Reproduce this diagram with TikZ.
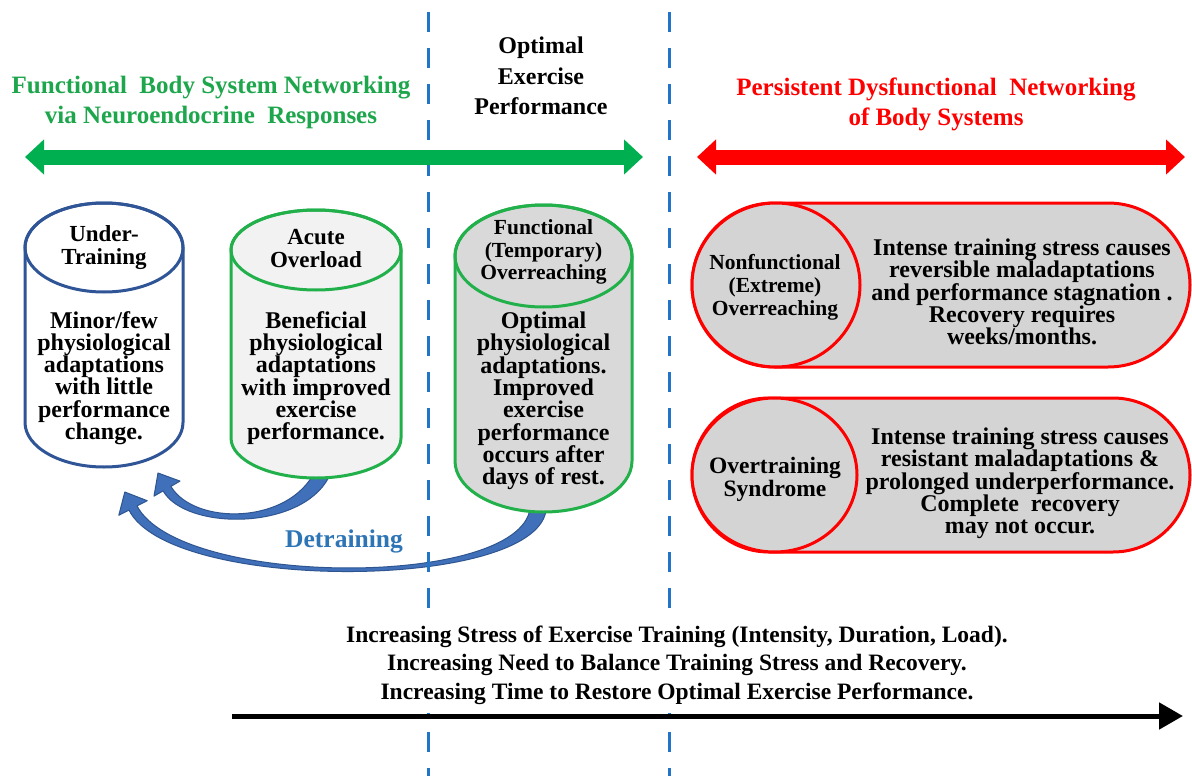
\documentclass[tikz,border=0pt]{standalone}
\usepackage{fontspec}
\setmainfont{Liberation Serif}
\usetikzlibrary{arrows.meta,shapes.geometric,shapes.misc}

\definecolor{okgreen}{HTML}{00B050}
\definecolor{txtgreen}{HTML}{1DA64B}
\definecolor{rimgreen}{HTML}{22B04B}
\definecolor{drumblue}{HTML}{2F5597}
\definecolor{guideblue}{HTML}{2075C8}
\definecolor{detrain}{HTML}{4070BA}
\definecolor{detrainedge}{HTML}{2F5590}
\definecolor{detraintext}{HTML}{2E75B6}
\definecolor{palegray}{HTML}{F2F2F2}
\definecolor{midgray}{HTML}{D9D9D9}
\definecolor{capsgray}{HTML}{D4D4D4}
\definecolor{alarmred}{HTML}{FF0000}

% drum: centre x, top-ellipse y, bottom-ellipse y, x radius, y radius, rim colour, fill colour
\newcommand\drum[7]{%
  \filldraw[line width=3pt, draw=#6, fill=#7]
    (#1-#4,#2) -- (#1-#4,#3)
    arc[start angle=180, end angle=0, x radius=#4, y radius=#5]
    -- (#1+#4,#2)
    arc[start angle=0, end angle=-180, x radius=#4, y radius=#5] -- cycle;
  \draw[line width=3pt, draw=#6] (#1,#2) ellipse[x radius=#4, y radius=#5];
}

\begin{document}
\begin{tikzpicture}[x=1pt, y=-1pt,
  every node/.style={inner sep=0pt, outer sep=0pt},
  banner/.style={align=center, font=\bfseries\fontsize{25}{30}\selectfont},
  optfont/.style={align=center, font=\bfseries\fontsize{24}{30.5}\selectfont},
  drumhead/.style={align=center, font=\bfseries\fontsize{23}{23}\selectfont},
  drumheadsmall/.style={align=center, font=\bfseries\fontsize{21.5}{22.5}\selectfont},
  drumbody/.style={align=center, font=\bfseries\fontsize{24}{22.3}\selectfont},
  capsbody/.style={align=center, font=\bfseries\fontsize{24}{22}\selectfont},
  capslabel/.style={align=center, font=\bfseries\fontsize{#1}{23}\selectfont},
  capsule/.style={rounded rectangle, draw=alarmred, line width=3pt, fill=capsgray},
  disc/.style={ellipse, draw=alarmred, line width=3pt, fill=capsgray},
  rangebar/.style={line width=15pt, {Triangle[width=34pt,length=19pt]}-{Triangle[width=34pt,length=19pt]}},
  detrainarrow/.style={fill=detrain, draw=detrainedge, line width=1pt, line join=round},
  guide/.style={draw=guideblue, line width=3pt, dash pattern=on 20pt off 16pt},
  stressaxis/.style={line width=5pt, -{Triangle[width=26pt,length=24pt]}}
]
\useasboundingbox (0,0) rectangle (1192,776);
\fill[white] (0,0) rectangle (1192,776);

% ---------- detraining arrows: tapered curved shafts, drawn under the drums ----------
\coordinate (ao-foot) at (322,474);
\coordinate (ut-near) at (158,473);
\coordinate (fo-foot) at (538,510);
\coordinate (ut-far)  at (124.8,492);
\filldraw[detrainarrow]
  (328.7,477.4) .. controls (300.8,530.9) and (185.7,530.5) .. (163.1,490.9)
  -- (154,496.1) -- (ut-near) -- (180,481.1) -- (170.9,486.4)
  .. controls (194.3,525.5) and (289.2,525.1) .. (315.3,470.6) -- cycle;
\filldraw[detrainarrow]
  (545.9,511.3) .. controls (531.9,591.1) and (170.1,592.5) .. (129,510.1)
  -- (118.8,515.3) -- (ut-far) -- (147.2,500.7) -- (137,505.9)
  .. controls (179.9,587.5) and (518.1,588.9) .. (530.1,508.7) -- cycle;

% ---------- zone dividers ----------
\coordinate (d1-top) at (428,12);  \coordinate (d1-bot) at (428,776);
\coordinate (d2-top) at (669,12);  \coordinate (d2-bot) at (669,776);
\draw[guide] (d1-top) -- (d1-bot);
\draw[guide] (d2-top) -- (d2-bot);

\node[font=\bfseries\fontsize{25.5}{28}\selectfont, text=detraintext] (detr) at (344,541) {Detraining};

% ---------- headings ----------
\node[banner, text=txtgreen] (fbsn) at (211,102)
  {Functional\ \ Body System Networking\\via Neuroendocrine\ \ Responses};
\node[banner, text=alarmred] (pdnb) at (936,104)
  {Persistent Dysfunctional\ \ Networking\\of Body Systems};
\node[optfont] (oep) at (541,76) {Optimal\\Exercise\\Performance};

% ---------- range arrows ----------
\coordinate (gl) at (25,157);  \coordinate (gr) at (643,157);
\coordinate (rl) at (697,157); \coordinate (rr) at (1185,157);
\draw[rangebar, draw=okgreen] (gl) -- (gr);
\draw[rangebar, draw=alarmred] (rl) -- (rr);

% ---------- drums ----------
\drum{104}{247.5}{422.5}{79}{44.5}{drumblue}{white}
\drum{316}{250}{438}{85}{40}{rimgreen}{palegray}
\drum{543.5}{256}{461}{88.5}{51}{rimgreen}{midgray}

\node[drumhead] (ut-head) at (104,248) {Under-\\Training};
\node[drumbody] (ut-body) at (104,378)
  {Minor/few\\physiological\\adaptations\\with little\\performance\\change.};

\node[drumhead] (ao-head) at (316,249) {Acute\\Overload};
\node[drumbody] (ao-body) at (316,378)
  {Beneficial\\physiological\\adaptations\\with improved\\exercise\\performance.};

\node[drumheadsmall] (fo-head) at (543.5,252) {Functional\\(Temporary)\\Overreaching};
\node[drumbody] (fo-body) at (543.5,401)
  {Optimal\\physiological\\adaptations.\\Improved\\exercise\\performance\\occurs after\\days of rest.};

% ---------- capsules ----------
\node[capsule, minimum width=498pt, minimum height=164pt] (nfo-box) at (941,285) {};
\node[disc, minimum width=168pt, minimum height=164pt] (nfo-disc) at (776,285) {};
\node[capslabel=21.5] (nfo-label) at (775,287) {Nonfunctional\\(Extreme)\\Overreaching};
\node[capsbody] (nfo-text) at (1022,292)
  {Intense training stress causes\\reversible maladaptations\\and performance stagnation .\\Recovery requires\\weeks/months.};

\node[capsule, minimum width=498pt, minimum height=154pt] (ots-box) at (941,475) {};
\node[disc, minimum width=165pt, minimum height=154pt] (ots-disc) at (774.5,475) {};
\node[capslabel=23.5] (ots-label) at (775,479) {Overtraining\\Syndrome};
\node[capsbody] (ots-text) at (1020,483)
  {Intense training stress causes\\resistant maladaptations \&\\prolonged underperformance.\\Complete\ \ recovery\\may not occur.};

% ---------- stress axis ----------
\node[align=center, fill=white, inner xsep=4pt, inner ysep=9pt,
      font=\bfseries\fontsize{23.5}{28.5}\selectfont] (axis-text) at (677,665)
  {Increasing Stress of Exercise Training (Intensity, Duration, Load).\\
   Increasing Need to Balance Training Stress and Recovery.\\
   Increasing Time to Restore Optimal Exercise Performance.};
\coordinate (ax-start) at (232,716);
\coordinate (ax-end) at (1183,716);
\draw[stressaxis] (ax-start) -- (ax-end);
\end{tikzpicture}
\end{document}
